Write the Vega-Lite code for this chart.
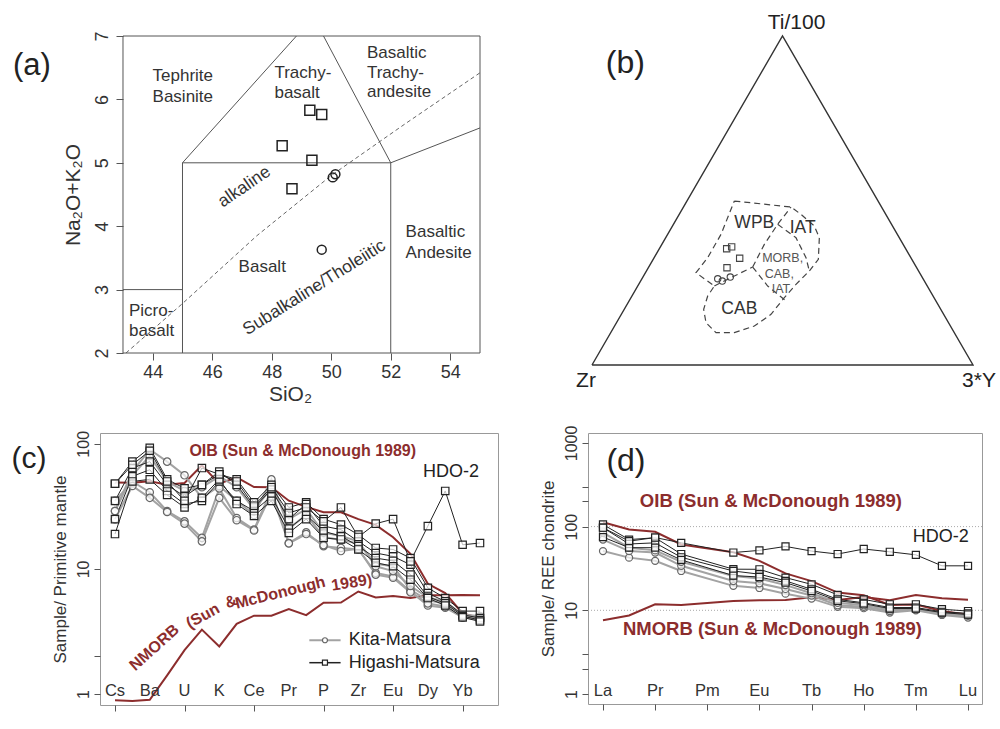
{
"$schema":"https://vega.github.io/schema/vega-lite/v6.json",
"padding":{"left":10,"top":12,"right":5,"bottom":5},
"config":{"font":"Liberation Sans","view":{"stroke":"#999"},"axis":{"domain":false,"grid":false,"labelFont":"Liberation Sans","titleFont":"Liberation Sans","labelColor":"#333","titleColor":"#333","tickColor":"#555","titleFontWeight":"normal","labelOverlap":false,"labelFlush":false},"text":{"font":"Liberation Sans","color":"#333"}},
"columns":2,
"spacing":{"row":68,"column":90},
"bounds":"flush",
"datasets":{
"tas_box":[{"x":43,"x2":55,"y":2,"y2":7}],
"tas_seg":[{"k":1,"o":1,"x":43,"y":3},{"k":1,"o":2,"x":45,"y":3},{"k":2,"o":1,"x":45,"y":2},{"k":2,"o":2,"x":45,"y":5},{"k":2,"o":3,"x":52,"y":5},{"k":2,"o":4,"x":52,"y":2},{"k":3,"o":1,"x":45,"y":5},{"k":3,"o":2,"x":48.83,"y":7},{"k":4,"o":1,"x":52,"y":5},{"k":4,"o":2,"x":49.74,"y":7},{"k":5,"o":1,"x":52,"y":5},{"k":5,"o":2,"x":55,"y":5.55}],
"tas_dash":[{"o":1,"x":43.1,"y":2},{"o":2,"x":45,"y":2.78},{"o":3,"x":47.5,"y":3.85},{"o":4,"x":50,"y":4.8},{"o":5,"x":52.5,"y":5.62},{"o":6,"x":55,"y":6.42}],
"tas_lab_c":[{"x":45.01,"y":6.37,"t":"Tephrite"},{"x":45.01,"y":6.03,"t":"Basinite"},{"x":47.68,"y":3.36,"t":"Basalt"}],
"tas_lab_l":[{"x":48.09,"y":6.42,"t":"Trachy-"},{"x":48.09,"y":6.1,"t":"basalt"},{"x":51.2,"y":6.73,"t":"Basaltic"},{"x":51.2,"y":6.42,"t":"Trachy-"},{"x":51.2,"y":6.12,"t":"andesite"},{"x":52.5,"y":3.91,"t":"Basaltic"},{"x":52.5,"y":3.57,"t":"Andesite"},{"x":43.2,"y":2.66,"t":"Picro-"},{"x":43.2,"y":2.34,"t":"basalt"}],
"tas_pts":[{"g":"H","x":49.28,"y":5.83},{"g":"H","x":49.68,"y":5.76},{"g":"H","x":48.35,"y":5.27},{"g":"H","x":49.35,"y":5.04},{"g":"H","x":48.68,"y":4.59},{"g":"K","x":50.05,"y":4.77},{"g":"K","x":50.14,"y":4.82},{"g":"K","x":49.68,"y":3.63}],
"tri":[{"o":1,"x":0,"y":0},{"o":2,"x":0.5,"y":0.866},{"o":3,"x":1,"y":0},{"o":4,"x":0,"y":0}],
"tri_f":[
{"k":"out","o":1,"x":0.3736,"y":0.4316},{"k":"out","o":2,"x":0.5223,"y":0.4158},{"k":"out","o":3,"x":0.5486,"y":0.3965},{"k":"out","o":4,"x":0.5836,"y":0.3658},{"k":"out","o":5,"x":0.5967,"y":0.3351},{"k":"out","o":6,"x":0.5941,"y":0.2781},{"k":"out","o":7,"x":0.5704,"y":0.2474},{"k":"out","o":8,"x":0.5354,"y":0.2123},{"k":"out","o":9,"x":0.5048,"y":0.1772},{"k":"out","o":10,"x":0.4698,"y":0.1333},{"k":"out","o":11,"x":0.4261,"y":0.1026},{"k":"out","o":12,"x":0.3736,"y":0.0851},{"k":"out","o":13,"x":0.3255,"y":0.0851},{"k":"out","o":14,"x":0.2992,"y":0.1114},{"k":"out","o":15,"x":0.2931,"y":0.1465},{"k":"out","o":16,"x":0.3036,"y":0.1816},{"k":"out","o":17,"x":0.3211,"y":0.2079},{"k":"out","o":18,"x":0.273,"y":0.243},{"k":"out","o":19,"x":0.3036,"y":0.2825},{"k":"out","o":20,"x":0.3386,"y":0.3439},{"k":"out","o":21,"x":0.3736,"y":0.4316},
{"k":"dc","o":1,"x":0.3211,"y":0.2079},{"k":"dc","o":2,"x":0.3736,"y":0.2342},{"k":"dc","o":3,"x":0.4217,"y":0.2579},
{"k":"db","o":1,"x":0.4217,"y":0.2579},{"k":"db","o":2,"x":0.4523,"y":0.3175},{"k":"db","o":3,"x":0.4873,"y":0.3702},{"k":"db","o":4,"x":0.5223,"y":0.4158},
{"k":"bc","o":1,"x":0.4217,"y":0.2579},{"k":"bc","o":2,"x":0.4611,"y":0.2079},{"k":"bc","o":3,"x":0.5092,"y":0.1684},
{"k":"ba","o":1,"x":0.4873,"y":0.3702},{"k":"ba","o":2,"x":0.5354,"y":0.3351},{"k":"ba","o":3,"x":0.5617,"y":0.2825},{"k":"ba","o":4,"x":0.5704,"y":0.2474}],
"tri_pts":[{"g":"H","x":0.3535,"y":0.306},{"g":"H","x":0.3666,"y":0.311},{"g":"H","x":0.3876,"y":0.281},{"g":"H","x":0.3543,"y":0.256},{"g":"K","x":0.33,"y":0.227},{"g":"K","x":0.342,"y":0.221},{"g":"K","x":0.363,"y":0.2316}],
"tri_vlab":[{"x":0.537,"y":0.899,"t":"Ti/100"},{"x":-0.0157,"y":-0.042,"t":"Zr"},{"x":1.0157,"y":-0.042,"t":"3*Y"}],
"tri_big":[{"x":0.426,"y":0.3745,"t":"WPB"},{"x":0.553,"y":0.361,"t":"IAT"},{"x":0.3867,"y":0.1465,"t":"CAB"}],
"tri_small":[{"x":0.5005,"y":0.282,"t":"MORB,"},{"x":0.4917,"y":0.2386,"t":"CAB,"},{"x":0.496,"y":0.2009,"t":"IAT"}],
"pm":[
{"s":"K1","g":"K","e":1,"v":29},{"s":"K1","g":"K","e":2,"v":60},{"s":"K1","g":"K","e":3,"v":90},{"s":"K1","g":"K","e":4,"v":72},{"s":"K1","g":"K","e":5,"v":56},{"s":"K1","g":"K","e":6,"v":37},{"s":"K1","g":"K","e":7,"v":46},{"s":"K1","g":"K","e":8,"v":35},{"s":"K1","g":"K","e":9,"v":27},{"s":"K1","g":"K","e":10,"v":52},{"s":"K1","g":"K","e":11,"v":21},{"s":"K1","g":"K","e":12,"v":27},{"s":"K1","g":"K","e":13,"v":18},{"s":"K1","g":"K","e":14,"v":17},{"s":"K1","g":"K","e":15,"v":16},{"s":"K1","g":"K","e":16,"v":11},{"s":"K1","g":"K","e":17,"v":10.5},{"s":"K1","g":"K","e":18,"v":6.8},{"s":"K1","g":"K","e":19,"v":5.6},{"s":"K1","g":"K","e":20,"v":5.3},{"s":"K1","g":"K","e":21,"v":4.3},{"s":"K1","g":"K","e":22,"v":4.2},
{"s":"K2","g":"K","e":1,"v":35},{"s":"K2","g":"K","e":2,"v":50},{"s":"K2","g":"K","e":3,"v":41},{"s":"K2","g":"K","e":4,"v":29},{"s":"K2","g":"K","e":5,"v":24},{"s":"K2","g":"K","e":6,"v":17.7},{"s":"K2","g":"K","e":7,"v":44},{"s":"K2","g":"K","e":8,"v":25.5},{"s":"K2","g":"K","e":9,"v":20.6},{"s":"K2","g":"K","e":10,"v":43},{"s":"K2","g":"K","e":11,"v":16.1},{"s":"K2","g":"K","e":12,"v":19.6},{"s":"K2","g":"K","e":13,"v":15.2},{"s":"K2","g":"K","e":14,"v":14.7},{"s":"K2","g":"K","e":15,"v":14.3},{"s":"K2","g":"K","e":16,"v":9.3},{"s":"K2","g":"K","e":17,"v":8.7},{"s":"K2","g":"K","e":18,"v":6.6},{"s":"K2","g":"K","e":19,"v":5.1},{"s":"K2","g":"K","e":20,"v":4.9},{"s":"K2","g":"K","e":21,"v":4.1},{"s":"K2","g":"K","e":22,"v":4.0},
{"s":"K3","g":"K","e":1,"v":25},{"s":"K3","g":"K","e":2,"v":46},{"s":"K3","g":"K","e":3,"v":37},{"s":"K3","g":"K","e":4,"v":28.5},{"s":"K3","g":"K","e":5,"v":23},{"s":"K3","g":"K","e":6,"v":16.6},{"s":"K3","g":"K","e":7,"v":37},{"s":"K3","g":"K","e":8,"v":24.5},{"s":"K3","g":"K","e":9,"v":20.3},{"s":"K3","g":"K","e":10,"v":40},{"s":"K3","g":"K","e":11,"v":16},{"s":"K3","g":"K","e":12,"v":19},{"s":"K3","g":"K","e":13,"v":15.5},{"s":"K3","g":"K","e":14,"v":13.9},{"s":"K3","g":"K","e":15,"v":14.5},{"s":"K3","g":"K","e":16,"v":9.0},{"s":"K3","g":"K","e":17,"v":8.5},{"s":"K3","g":"K","e":18,"v":6.5},{"s":"K3","g":"K","e":19,"v":5.3},{"s":"K3","g":"K","e":20,"v":5.0},{"s":"K3","g":"K","e":21,"v":4.1},{"s":"K3","g":"K","e":22,"v":3.9},
{"s":"K4","g":"K","e":1,"v":29},{"s":"K4","g":"K","e":2,"v":56},{"s":"K4","g":"K","e":3,"v":80},{"s":"K4","g":"K","e":4,"v":50},{"s":"K4","g":"K","e":5,"v":42},{"s":"K4","g":"K","e":6,"v":45},{"s":"K4","g":"K","e":7,"v":55},{"s":"K4","g":"K","e":8,"v":45},{"s":"K4","g":"K","e":9,"v":30},{"s":"K4","g":"K","e":10,"v":44},{"s":"K4","g":"K","e":11,"v":25},{"s":"K4","g":"K","e":12,"v":30},{"s":"K4","g":"K","e":13,"v":19.5},{"s":"K4","g":"K","e":14,"v":18.3},{"s":"K4","g":"K","e":15,"v":16.6},{"s":"K4","g":"K","e":16,"v":10.5},{"s":"K4","g":"K","e":17,"v":9.6},{"s":"K4","g":"K","e":18,"v":7.3},{"s":"K4","g":"K","e":19,"v":5.9},{"s":"K4","g":"K","e":20,"v":5.5},{"s":"K4","g":"K","e":21,"v":4.3},{"s":"K4","g":"K","e":22,"v":4.1},
{"s":"H1","g":"H","e":1,"v":48},{"s":"H1","g":"H","e":2,"v":72},{"s":"H1","g":"H","e":3,"v":93},{"s":"H1","g":"H","e":4,"v":52},{"s":"H1","g":"H","e":5,"v":44},{"s":"H1","g":"H","e":6,"v":47},{"s":"H1","g":"H","e":7,"v":57},{"s":"H1","g":"H","e":8,"v":52},{"s":"H1","g":"H","e":9,"v":34},{"s":"H1","g":"H","e":10,"v":47},{"s":"H1","g":"H","e":11,"v":31},{"s":"H1","g":"H","e":12,"v":34},{"s":"H1","g":"H","e":13,"v":25},{"s":"H1","g":"H","e":14,"v":22.6},{"s":"H1","g":"H","e":15,"v":18.8},{"s":"H1","g":"H","e":16,"v":14.7},{"s":"H1","g":"H","e":17,"v":14.3},{"s":"H1","g":"H","e":18,"v":12.2},{"s":"H1","g":"H","e":19,"v":7.05},{"s":"H1","g":"H","e":20,"v":5.85},{"s":"H1","g":"H","e":21,"v":4.6},{"s":"H1","g":"H","e":22,"v":4.6},
{"s":"H2","g":"H","e":1,"v":35},{"s":"H2","g":"H","e":2,"v":64},{"s":"H2","g":"H","e":3,"v":72},{"s":"H2","g":"H","e":4,"v":47},{"s":"H2","g":"H","e":5,"v":38},{"s":"H2","g":"H","e":6,"v":47},{"s":"H2","g":"H","e":7,"v":60},{"s":"H2","g":"H","e":8,"v":47},{"s":"H2","g":"H","e":9,"v":31},{"s":"H2","g":"H","e":10,"v":43},{"s":"H2","g":"H","e":11,"v":25},{"s":"H2","g":"H","e":12,"v":33},{"s":"H2","g":"H","e":13,"v":22},{"s":"H2","g":"H","e":14,"v":20.6},{"s":"H2","g":"H","e":15,"v":16.6},{"s":"H2","g":"H","e":16,"v":13.4},{"s":"H2","g":"H","e":17,"v":12.6},{"s":"H2","g":"H","e":18,"v":10.8},{"s":"H2","g":"H","e":19,"v":6.4},{"s":"H2","g":"H","e":20,"v":5.5},{"s":"H2","g":"H","e":21,"v":4.3},{"s":"H2","g":"H","e":22,"v":4.05},
{"s":"H3","g":"H","e":1,"v":25},{"s":"H3","g":"H","e":2,"v":55},{"s":"H3","g":"H","e":3,"v":62},{"s":"H3","g":"H","e":4,"v":42},{"s":"H3","g":"H","e":5,"v":33},{"s":"H3","g":"H","e":6,"v":35},{"s":"H3","g":"H","e":7,"v":50},{"s":"H3","g":"H","e":8,"v":35},{"s":"H3","g":"H","e":9,"v":29},{"s":"H3","g":"H","e":10,"v":38},{"s":"H3","g":"H","e":11,"v":21},{"s":"H3","g":"H","e":12,"v":27},{"s":"H3","g":"H","e":13,"v":20},{"s":"H3","g":"H","e":14,"v":18.3},{"s":"H3","g":"H","e":15,"v":15.2},{"s":"H3","g":"H","e":16,"v":12.2},{"s":"H3","g":"H","e":17,"v":11.6},{"s":"H3","g":"H","e":18,"v":9.0},{"s":"H3","g":"H","e":19,"v":6.0},{"s":"H3","g":"H","e":20,"v":5.3},{"s":"H3","g":"H","e":21,"v":4.2},{"s":"H3","g":"H","e":22,"v":3.9},
{"s":"H4","g":"H","e":1,"v":19},{"s":"H4","g":"H","e":2,"v":50},{"s":"H4","g":"H","e":3,"v":52},{"s":"H4","g":"H","e":4,"v":39},{"s":"H4","g":"H","e":5,"v":31},{"s":"H4","g":"H","e":6,"v":37},{"s":"H4","g":"H","e":7,"v":52},{"s":"H4","g":"H","e":8,"v":33},{"s":"H4","g":"H","e":9,"v":26.5},{"s":"H4","g":"H","e":10,"v":35},{"s":"H4","g":"H","e":11,"v":19.4},{"s":"H4","g":"H","e":12,"v":25},{"s":"H4","g":"H","e":13,"v":17.7},{"s":"H4","g":"H","e":14,"v":17.2},{"s":"H4","g":"H","e":15,"v":14.3},{"s":"H4","g":"H","e":16,"v":11.2},{"s":"H4","g":"H","e":17,"v":10.5},{"s":"H4","g":"H","e":18,"v":8.2},{"s":"H4","g":"H","e":19,"v":5.85},{"s":"H4","g":"H","e":20,"v":5.1},{"s":"H4","g":"H","e":21,"v":4.1},{"s":"H4","g":"H","e":22,"v":3.8},
{"s":"HDO2","g":"H","e":1,"v":48},{"s":"HDO2","g":"H","e":2,"v":68},{"s":"HDO2","g":"H","e":3,"v":88},{"s":"HDO2","g":"H","e":4,"v":50},{"s":"HDO2","g":"H","e":5,"v":35},{"s":"HDO2","g":"H","e":6,"v":64},{"s":"HDO2","g":"H","e":7,"v":57},{"s":"HDO2","g":"H","e":8,"v":50},{"s":"HDO2","g":"H","e":9,"v":32},{"s":"HDO2","g":"H","e":10,"v":45},{"s":"HDO2","g":"H","e":11,"v":28},{"s":"HDO2","g":"H","e":12,"v":31},{"s":"HDO2","g":"H","e":13,"v":24},{"s":"HDO2","g":"H","e":14,"v":31},{"s":"HDO2","g":"H","e":15,"v":18},{"s":"HDO2","g":"H","e":16,"v":23},{"s":"HDO2","g":"H","e":17,"v":25},{"s":"HDO2","g":"H","e":18,"v":11.5},{"s":"HDO2","g":"H","e":19,"v":22},{"s":"HDO2","g":"H","e":20,"v":42},{"s":"HDO2","g":"H","e":21,"v":15.6},{"s":"HDO2","g":"H","e":22,"v":16.1}],
"pm_ref":[
{"m":"OIB","e":1,"v":49},{"m":"OIB","e":2,"v":48.8},{"m":"OIB","e":3,"v":50.1},{"m":"OIB","e":4,"v":47},{"m":"OIB","e":5,"v":48.6},{"m":"OIB","e":6,"v":67.3},{"m":"OIB","e":7,"v":48},{"m":"OIB","e":8,"v":53.9},{"m":"OIB","e":9,"v":45.1},{"m":"OIB","e":10,"v":45},{"m":"OIB","e":11,"v":35.1},{"m":"OIB","e":12,"v":31.3},{"m":"OIB","e":13,"v":28.4},{"m":"OIB","e":14,"v":28.4},{"m":"OIB","e":15,"v":25},{"m":"OIB","e":16,"v":22.5},{"m":"OIB","e":17,"v":17.9},{"m":"OIB","e":18,"v":13.2},{"m":"OIB","e":19,"v":7.6},{"m":"OIB","e":20,"v":6.4},{"m":"OIB","e":21,"v":4.4},{"m":"OIB","e":22,"v":4.05},
{"m":"NMORB","e":1,"v":0.89},{"m":"NMORB","e":2,"v":0.88},{"m":"NMORB","e":3,"v":0.9},{"m":"NMORB","e":4,"v":1.41},{"m":"NMORB","e":5,"v":2.24},{"m":"NMORB","e":6,"v":3.27},{"m":"NMORB","e":7,"v":2.4},{"m":"NMORB","e":8,"v":3.64},{"m":"NMORB","e":9,"v":4.23},{"m":"NMORB","e":10,"v":4.23},{"m":"NMORB","e":11,"v":4.78},{"m":"NMORB","e":12,"v":4.27},{"m":"NMORB","e":13,"v":5.37},{"m":"NMORB","e":14,"v":5.39},{"m":"NMORB","e":15,"v":6.6},{"m":"NMORB","e":16,"v":5.92},{"m":"NMORB","e":17,"v":6.07},{"m":"NMORB","e":18,"v":5.85},{"m":"NMORB","e":19,"v":6.17},{"m":"NMORB","e":20,"v":6.15},{"m":"NMORB","e":21,"v":6.19},{"m":"NMORB","e":22,"v":6.15}],
"pm_in":[{"e":1,"t":"Cs"},{"e":3,"t":"Ba"},{"e":5,"t":"U"},{"e":7,"t":"K"},{"e":9,"t":"Ce"},{"e":11,"t":"Pr"},{"e":13,"t":"P"},{"e":15,"t":"Zr"},{"e":17,"t":"Eu"},{"e":19,"t":"Dy"},{"e":21,"t":"Yb"}],
"pm_leg":[{"g":"K","e":12.18,"e2":13.98,"m":13.08,"tx":14.45,"v":2.69,"t":"Kita-Matsura"},{"g":"H","e":12.18,"e2":13.98,"m":13.08,"tx":14.45,"v":1.78,"t":"Higashi-Matsura"}],
"ree":[
{"s":"K1","g":"K","e":1,"v":51},{"s":"K1","g":"K","e":2,"v":42.6},{"s":"K1","g":"K","e":3,"v":39},{"s":"K1","g":"K","e":4,"v":29.5},{"s":"K1","g":"K","e":6,"v":19.6},{"s":"K1","g":"K","e":7,"v":18.5},{"s":"K1","g":"K","e":8,"v":15.8},{"s":"K1","g":"K","e":9,"v":13.8},{"s":"K1","g":"K","e":10,"v":11},{"s":"K1","g":"K","e":11,"v":10.6},{"s":"K1","g":"K","e":12,"v":9.4},{"s":"K1","g":"K","e":13,"v":10},{"s":"K1","g":"K","e":14,"v":8.8},{"s":"K1","g":"K","e":15,"v":8.2},
{"s":"K2","g":"K","e":1,"v":70},{"s":"K2","g":"K","e":2,"v":51},{"s":"K2","g":"K","e":3,"v":49},{"s":"K2","g":"K","e":4,"v":34},{"s":"K2","g":"K","e":6,"v":22.4},{"s":"K2","g":"K","e":7,"v":21},{"s":"K2","g":"K","e":8,"v":18},{"s":"K2","g":"K","e":9,"v":15},{"s":"K2","g":"K","e":10,"v":11.5},{"s":"K2","g":"K","e":11,"v":11},{"s":"K2","g":"K","e":12,"v":9.8},{"s":"K2","g":"K","e":13,"v":10.2},{"s":"K2","g":"K","e":14,"v":9},{"s":"K2","g":"K","e":15,"v":8.6},
{"s":"K3","g":"K","e":1,"v":85},{"s":"K3","g":"K","e":2,"v":56},{"s":"K3","g":"K","e":3,"v":52},{"s":"K3","g":"K","e":4,"v":38},{"s":"K3","g":"K","e":6,"v":25.7},{"s":"K3","g":"K","e":7,"v":24},{"s":"K3","g":"K","e":8,"v":20},{"s":"K3","g":"K","e":9,"v":16},{"s":"K3","g":"K","e":10,"v":12.3},{"s":"K3","g":"K","e":11,"v":11.5},{"s":"K3","g":"K","e":12,"v":10.3},{"s":"K3","g":"K","e":13,"v":10.5},{"s":"K3","g":"K","e":14,"v":9.2},{"s":"K3","g":"K","e":15,"v":8.8},
{"s":"H1","g":"H","e":1,"v":106},{"s":"H1","g":"H","e":2,"v":70},{"s":"H1","g":"H","e":3,"v":73.6},{"s":"H1","g":"H","e":4,"v":47},{"s":"H1","g":"H","e":6,"v":31},{"s":"H1","g":"H","e":7,"v":30.9},{"s":"H1","g":"H","e":8,"v":24.6},{"s":"H1","g":"H","e":9,"v":20.4},{"s":"H1","g":"H","e":10,"v":15.3},{"s":"H1","g":"H","e":11,"v":13.5},{"s":"H1","g":"H","e":12,"v":11.8},{"s":"H1","g":"H","e":13,"v":11.8},{"s":"H1","g":"H","e":14,"v":10.3},{"s":"H1","g":"H","e":15,"v":9.8},
{"s":"H2","g":"H","e":1,"v":97},{"s":"H2","g":"H","e":2,"v":62},{"s":"H2","g":"H","e":3,"v":64},{"s":"H2","g":"H","e":4,"v":43},{"s":"H2","g":"H","e":6,"v":29.5},{"s":"H2","g":"H","e":7,"v":27},{"s":"H2","g":"H","e":8,"v":22.5},{"s":"H2","g":"H","e":9,"v":17.8},{"s":"H2","g":"H","e":10,"v":13.5},{"s":"H2","g":"H","e":11,"v":12.3},{"s":"H2","g":"H","e":12,"v":10.8},{"s":"H2","g":"H","e":13,"v":10.8},{"s":"H2","g":"H","e":14,"v":9.6},{"s":"H2","g":"H","e":15,"v":9.2},
{"s":"H3","g":"H","e":1,"v":75},{"s":"H3","g":"H","e":2,"v":56},{"s":"H3","g":"H","e":3,"v":56},{"s":"H3","g":"H","e":4,"v":40},{"s":"H3","g":"H","e":6,"v":26},{"s":"H3","g":"H","e":7,"v":25},{"s":"H3","g":"H","e":8,"v":21.4},{"s":"H3","g":"H","e":9,"v":17},{"s":"H3","g":"H","e":10,"v":13},{"s":"H3","g":"H","e":11,"v":12},{"s":"H3","g":"H","e":12,"v":10.5},{"s":"H3","g":"H","e":13,"v":10.5},{"s":"H3","g":"H","e":14,"v":9.4},{"s":"H3","g":"H","e":15,"v":8.9},
{"s":"HDO2","g":"H","e":1,"v":97},{"s":"HDO2","g":"H","e":2,"v":67},{"s":"HDO2","g":"H","e":3,"v":74},{"s":"HDO2","g":"H","e":4,"v":64},{"s":"HDO2","g":"H","e":6,"v":49},{"s":"HDO2","g":"H","e":7,"v":52},{"s":"HDO2","g":"H","e":8,"v":58},{"s":"HDO2","g":"H","e":9,"v":51},{"s":"HDO2","g":"H","e":10,"v":47},{"s":"HDO2","g":"H","e":11,"v":54},{"s":"HDO2","g":"H","e":12,"v":50},{"s":"HDO2","g":"H","e":13,"v":46},{"s":"HDO2","g":"H","e":14,"v":34},{"s":"HDO2","g":"H","e":15,"v":34}],
"ree_ref":[
{"m":"OIB","e":1,"v":112.5},{"m":"OIB","e":2,"v":92.5},{"m":"OIB","e":3,"v":86.6},{"m":"OIB","e":4,"v":61.1},{"m":"OIB","e":6,"v":49.3},{"m":"OIB","e":7,"v":39},{"m":"OIB","e":8,"v":27.6},{"m":"OIB","e":9,"v":22.3},{"m":"OIB","e":10,"v":16.3},{"m":"OIB","e":11,"v":15.1},{"m":"OIB","e":12,"v":11.6},{"m":"OIB","e":13,"v":11.7},{"m":"OIB","e":14,"v":9.8},{"m":"OIB","e":15,"v":8.85},
{"m":"NMORB","e":1,"v":7.6},{"m":"NMORB","e":2,"v":8.67},{"m":"NMORB","e":3,"v":11.8},{"m":"NMORB","e":4,"v":11.6},{"m":"NMORB","e":6,"v":12.96},{"m":"NMORB","e":7,"v":13.2},{"m":"NMORB","e":8,"v":13.3},{"m":"NMORB","e":9,"v":14.3},{"m":"NMORB","e":10,"v":13.3},{"m":"NMORB","e":11,"v":14.4},{"m":"NMORB","e":12,"v":13.2},{"m":"NMORB","e":13,"v":15.2},{"m":"NMORB","e":14,"v":13.9},{"m":"NMORB","e":15,"v":13.4}],
"ree_in":[{"e":1,"t":"La"},{"e":3,"t":"Pr"},{"e":5,"t":"Pm"},{"e":7,"t":"Eu"},{"e":9,"t":"Tb"},{"e":11,"t":"Ho"},{"e":13,"t":"Tm"},{"e":15,"t":"Lu"}]
},
"concat":[
{
"width":380,"height":317,"view":{"stroke":null},
"layer":[
{"data":{"name":"tas_box"},"mark":{"type":"rect","filled":false,"stroke":"#555","strokeWidth":1},
 "encoding":{
  "x":{"field":"x","type":"quantitative","scale":{"domain":[42.227,55],"nice":false,"zero":false},"title":"SiO₂","axis":{"values":[44,46,48,50,52,54],"format":"d","tickSize":7,"labelFontSize":18,"titleFontSize":21,"labelPadding":3,"titlePadding":2}},
  "x2":{"field":"x2"},
  "y":{"field":"y","type":"quantitative","scale":{"domain":[2,7],"nice":false,"zero":false},"title":"Na₂O+K₂O","axis":{"values":[2,3,4,5,6,7],"format":"d","offset":-23,"tickSize":7,"labelAngle":-90,"labelFontSize":18,"titleFontSize":21,"labelPadding":5,"titlePadding":10}},
  "y2":{"field":"y2"}}},
{"data":{"name":"tas_seg"},"mark":{"type":"line","stroke":"#555","strokeWidth":1},
 "encoding":{"x":{"field":"x","type":"quantitative","scale":{"domain":[42.227,55],"nice":false,"zero":false},"title":"SiO₂"},"y":{"field":"y","type":"quantitative","scale":{"domain":[2,7],"nice":false,"zero":false},"title":"Na₂O+K₂O"},"detail":{"field":"k"},"order":{"field":"o"}}},
{"data":{"name":"tas_dash"},"mark":{"type":"line","stroke":"#555","strokeWidth":0.9,"strokeDash":[4,3]},
 "encoding":{"x":{"field":"x","type":"quantitative","scale":{"domain":[42.227,55],"nice":false,"zero":false},"title":"SiO₂"},"y":{"field":"y","type":"quantitative","scale":{"domain":[2,7],"nice":false,"zero":false},"title":"Na₂O+K₂O"},"order":{"field":"o"}}},
{"data":{"name":"tas_lab_c"},"mark":{"type":"text","fontSize":17,"align":"center","baseline":"middle","color":"#333"},
 "encoding":{"x":{"field":"x","type":"quantitative","scale":{"domain":[42.227,55],"nice":false,"zero":false},"title":"SiO₂"},"y":{"field":"y","type":"quantitative","scale":{"domain":[2,7],"nice":false,"zero":false},"title":"Na₂O+K₂O"},"text":{"field":"t"}}},
{"data":{"name":"tas_lab_l"},"mark":{"type":"text","fontSize":17,"align":"left","baseline":"middle","color":"#333"},
 "encoding":{"x":{"field":"x","type":"quantitative","scale":{"domain":[42.227,55],"nice":false,"zero":false},"title":"SiO₂"},"y":{"field":"y","type":"quantitative","scale":{"domain":[2,7],"nice":false,"zero":false},"title":"Na₂O+K₂O"},"text":{"field":"t"}}},
{"data":{"values":[{"x":47.08,"y":4.62,"t":"alkaline"}]},"mark":{"type":"text","fontSize":17.5,"angle":325.5,"align":"center","baseline":"middle","color":"#333"},
 "encoding":{"x":{"field":"x","type":"quantitative","scale":{"domain":[42.227,55],"nice":false,"zero":false},"title":"SiO₂"},"y":{"field":"y","type":"quantitative","scale":{"domain":[2,7],"nice":false,"zero":false},"title":"Na₂O+K₂O"},"text":{"field":"t"}}},
{"data":{"values":[{"x":49.43,"y":3.03,"t":"Subalkaline/Tholeiitic"}]},"mark":{"type":"text","fontSize":17.5,"angle":328,"align":"center","baseline":"middle","color":"#333"},
 "encoding":{"x":{"field":"x","type":"quantitative","scale":{"domain":[42.227,55],"nice":false,"zero":false},"title":"SiO₂"},"y":{"field":"y","type":"quantitative","scale":{"domain":[2,7],"nice":false,"zero":false},"title":"Na₂O+K₂O"},"text":{"field":"t"}}},
{"data":{"values":[{"x":39.94,"y":6.53,"t":"(a)"}]},"mark":{"type":"text","fontSize":31,"align":"center","baseline":"middle","color":"#222"},
 "encoding":{"x":{"field":"x","type":"quantitative","scale":{"domain":[42.227,55],"nice":false,"zero":false},"title":"SiO₂"},"y":{"field":"y","type":"quantitative","scale":{"domain":[2,7],"nice":false,"zero":false},"title":"Na₂O+K₂O"},"text":{"field":"t"}}},
{"data":{"name":"tas_pts"},"transform":[{"filter":"datum.g=='H'"}],"mark":{"type":"point","shape":"square","size":100,"filled":false,"stroke":"#222","strokeWidth":1.5,"opacity":1},
 "encoding":{"x":{"field":"x","type":"quantitative","scale":{"domain":[42.227,55],"nice":false,"zero":false},"title":"SiO₂"},"y":{"field":"y","type":"quantitative","scale":{"domain":[2,7],"nice":false,"zero":false},"title":"Na₂O+K₂O"}}},
{"data":{"name":"tas_pts"},"transform":[{"filter":"datum.g=='K'"}],"mark":{"type":"point","shape":"circle","size":80,"filled":false,"stroke":"#222","strokeWidth":1.5,"opacity":1},
 "encoding":{"x":{"field":"x","type":"quantitative","scale":{"domain":[42.227,55],"nice":false,"zero":false},"title":"SiO₂"},"y":{"field":"y","type":"quantitative","scale":{"domain":[2,7],"nice":false,"zero":false},"title":"Na₂O+K₂O"}}}
]},
{
"width":385,"height":329,"view":{"stroke":null},
"layer":[
{"data":{"name":"tri"},"mark":{"type":"line","stroke":"#333","strokeWidth":1.4},
 "encoding":{"x":{"field":"x","type":"quantitative","scale":{"domain":[-0.0105,1],"nice":false,"zero":false},"axis":null},"y":{"field":"y","type":"quantitative","scale":{"domain":[0,0.866],"nice":false,"zero":false},"axis":null},"order":{"field":"o"}}},
{"data":{"name":"tri_f"},"mark":{"type":"line","stroke":"#444","strokeWidth":1.2,"strokeDash":[6,4]},
 "encoding":{"x":{"field":"x","type":"quantitative","scale":{"domain":[-0.0105,1],"nice":false,"zero":false},"axis":null},"y":{"field":"y","type":"quantitative","scale":{"domain":[0,0.866],"nice":false,"zero":false},"axis":null},"detail":{"field":"k"},"order":{"field":"o"}}},
{"data":{"name":"tri_vlab"},"mark":{"type":"text","fontSize":21,"align":"center","baseline":"middle","color":"#222"},
 "encoding":{"x":{"field":"x","type":"quantitative","scale":{"domain":[-0.0105,1],"nice":false,"zero":false},"axis":null},"y":{"field":"y","type":"quantitative","scale":{"domain":[0,0.866],"nice":false,"zero":false},"axis":null},"text":{"field":"t"}}},
{"data":{"name":"tri_big"},"mark":{"type":"text","fontSize":17.5,"align":"center","baseline":"middle","color":"#333"},
 "encoding":{"x":{"field":"x","type":"quantitative","scale":{"domain":[-0.0105,1],"nice":false,"zero":false},"axis":null},"y":{"field":"y","type":"quantitative","scale":{"domain":[0,0.866],"nice":false,"zero":false},"axis":null},"text":{"field":"t"}}},
{"data":{"name":"tri_small"},"mark":{"type":"text","fontSize":12.5,"align":"center","baseline":"middle","color":"#555"},
 "encoding":{"x":{"field":"x","type":"quantitative","scale":{"domain":[-0.0105,1],"nice":false,"zero":false},"axis":null},"y":{"field":"y","type":"quantitative","scale":{"domain":[0,0.866],"nice":false,"zero":false},"axis":null},"text":{"field":"t"}}},
{"data":{"values":[{"x":0.0874,"y":0.7955,"t":"(b)"}]},"mark":{"type":"text","fontSize":32,"align":"center","baseline":"middle","color":"#222"},
 "encoding":{"x":{"field":"x","type":"quantitative","scale":{"domain":[-0.0105,1],"nice":false,"zero":false},"axis":null},"y":{"field":"y","type":"quantitative","scale":{"domain":[0,0.866],"nice":false,"zero":false},"axis":null},"text":{"field":"t"}}},
{"data":{"name":"tri_pts"},"transform":[{"filter":"datum.g=='H'"}],"mark":{"type":"point","shape":"square","size":40,"filled":false,"stroke":"#444","strokeWidth":1.1,"opacity":1},
 "encoding":{"x":{"field":"x","type":"quantitative","scale":{"domain":[-0.0105,1],"nice":false,"zero":false},"axis":null},"y":{"field":"y","type":"quantitative","scale":{"domain":[0,0.866],"nice":false,"zero":false},"axis":null}}},
{"data":{"name":"tri_pts"},"transform":[{"filter":"datum.g=='K'"}],"mark":{"type":"point","shape":"circle","size":40,"filled":false,"stroke":"#444","strokeWidth":1.1,"opacity":1},
 "encoding":{"x":{"field":"x","type":"quantitative","scale":{"domain":[-0.0105,1],"nice":false,"zero":false},"axis":null},"y":{"field":"y","type":"quantitative","scale":{"domain":[0,0.866],"nice":false,"zero":false},"axis":null}}}
]},
{
"width":398,"height":272,"view":{"stroke":"#999"},
"layer":[
{"mark":{"type":"rule","stroke":"#aaa","strokeWidth":1,"strokeDash":[1,2]},
 "encoding":{"y":{"datum":10,"type":"quantitative","scale":{"type":"log","domain":[0.817,122],"nice":false}}}},
{"data":{"name":"pm_ref"},"mark":{"type":"line","stroke":"#8c2d2d","strokeWidth":2},
 "encoding":{"x":{"field":"e","type":"quantitative","scale":{"domain":[0.137,23.036],"nice":false,"zero":false},"title":null},"y":{"field":"v","type":"quantitative","scale":{"type":"log","domain":[0.817,122],"nice":false},"title":"Sample/ Primitive mantle"},"detail":{"field":"m"}}},
{"data":{"name":"pm"},"transform":[{"filter":"datum.g=='K'"}],"mark":{"type":"line","stroke":"#a3a3a3","strokeWidth":2},
 "encoding":{"x":{"field":"e","type":"quantitative","scale":{"domain":[0.137,23.036],"nice":false,"zero":false},"title":null},"y":{"field":"v","type":"quantitative","scale":{"type":"log","domain":[0.817,122],"nice":false},"title":"Sample/ Primitive mantle"},"detail":{"field":"s"}}},
{"data":{"name":"pm"},"transform":[{"filter":"datum.g=='H'"}],"mark":{"type":"line","stroke":"#222","strokeWidth":1},
 "encoding":{"x":{"field":"e","type":"quantitative","scale":{"domain":[0.137,23.036],"nice":false,"zero":false},"title":null,"axis":{"values":[1,2,3,4,5,6,7,8,9,10,11,12,13,14,15,16,17,18,19,20,21,22],"labelExpr":"datum.value % 2 == 0 ? ['','Cs','Rb','Ba','Th','U','Nb','K','La','Ce','Pb','Pr','Sr','P','Nd','Zr','Sm','Eu','Ti','Dy','Y','Yb','Lu'][datum.value] : ''","tickSize":6,"labelFontSize":16.5,"labelPadding":2}},"y":{"field":"v","type":"quantitative","scale":{"type":"log","domain":[0.817,122],"nice":false},"title":"Sample/ Primitive mantle","axis":{"values":[1,2,10,100],"labelExpr":"datum.value == 2 ? '' : datum.value","labelAngle":-90,"tickSize":6,"labelFontSize":16,"labelPadding":3,"titleFontSize":17,"titlePadding":6}},"detail":{"field":"s"}}},
{"data":{"name":"pm"},"transform":[{"filter":"datum.g=='K'"}],"mark":{"type":"point","shape":"circle","size":55,"filled":true,"fill":"#fff","fillOpacity":0.7,"stroke":"#666","strokeWidth":1.2,"opacity":1},
 "encoding":{"x":{"field":"e","type":"quantitative","scale":{"domain":[0.137,23.036],"nice":false,"zero":false},"title":null},"y":{"field":"v","type":"quantitative","scale":{"type":"log","domain":[0.817,122],"nice":false},"title":"Sample/ Primitive mantle"}}},
{"data":{"name":"pm"},"transform":[{"filter":"datum.g=='H'"}],"mark":{"type":"point","shape":"square","size":55,"filled":true,"fill":"#fff","fillOpacity":0.7,"stroke":"#222","strokeWidth":1.2,"opacity":1},
 "encoding":{"x":{"field":"e","type":"quantitative","scale":{"domain":[0.137,23.036],"nice":false,"zero":false},"title":null},"y":{"field":"v","type":"quantitative","scale":{"type":"log","domain":[0.817,122],"nice":false},"title":"Sample/ Primitive mantle"}}},
{"data":{"values":[{"e":11.8,"v":87.9,"t":"OIB (Sun & McDonough 1989)"}]},"mark":{"type":"text","fontSize":16,"fontWeight":"bold","align":"center","baseline":"middle","color":"#8c2d2d"},
 "encoding":{"x":{"field":"e","type":"quantitative","scale":{"domain":[0.137,23.036],"nice":false,"zero":false},"title":null},"y":{"field":"v","type":"quantitative","scale":{"type":"log","domain":[0.817,122],"nice":false},"title":"Sample/ Primitive mantle"},"text":{"field":"t"}}},
{"data":{"values":[{"e":3.26,"v":2.35,"t":"NMORB"}]},"mark":{"type":"text","fontSize":16,"fontWeight":"bold","angle":318,"align":"center","baseline":"middle","color":"#8c2d2d"},
 "encoding":{"x":{"field":"e","type":"quantitative","scale":{"domain":[0.137,23.036],"nice":false,"zero":false},"title":null},"y":{"field":"v","type":"quantitative","scale":{"type":"log","domain":[0.817,122],"nice":false},"title":"Sample/ Primitive mantle"},"text":{"field":"t"}}},
{"data":{"values":[{"e":6.05,"v":4.21,"t":"(Sun"}]},"mark":{"type":"text","fontSize":16,"fontWeight":"bold","angle":331,"align":"center","baseline":"middle","color":"#8c2d2d"},
 "encoding":{"x":{"field":"e","type":"quantitative","scale":{"domain":[0.137,23.036],"nice":false,"zero":false},"title":null},"y":{"field":"v","type":"quantitative","scale":{"type":"log","domain":[0.817,122],"nice":false},"title":"Sample/ Primitive mantle"},"text":{"field":"t"}}},
{"data":{"values":[{"e":7.67,"v":5.47,"t":"&"}]},"mark":{"type":"text","fontSize":16,"fontWeight":"bold","angle":338,"align":"center","baseline":"middle","color":"#8c2d2d"},
 "encoding":{"x":{"field":"e","type":"quantitative","scale":{"domain":[0.137,23.036],"nice":false,"zero":false},"title":null},"y":{"field":"v","type":"quantitative","scale":{"type":"log","domain":[0.817,122],"nice":false},"title":"Sample/ Primitive mantle"},"text":{"field":"t"}}},
{"data":{"values":[{"e":10.51,"v":6.46,"t":"McDonough"}]},"mark":{"type":"text","fontSize":16,"fontWeight":"bold","angle":346,"align":"center","baseline":"middle","color":"#8c2d2d"},
 "encoding":{"x":{"field":"e","type":"quantitative","scale":{"domain":[0.137,23.036],"nice":false,"zero":false},"title":null},"y":{"field":"v","type":"quantitative","scale":{"type":"log","domain":[0.817,122],"nice":false},"title":"Sample/ Primitive mantle"},"text":{"field":"t"}}},
{"data":{"values":[{"e":14.62,"v":7.77,"t":"1989)"}]},"mark":{"type":"text","fontSize":16,"fontWeight":"bold","angle":351,"align":"center","baseline":"middle","color":"#8c2d2d"},
 "encoding":{"x":{"field":"e","type":"quantitative","scale":{"domain":[0.137,23.036],"nice":false,"zero":false},"title":null},"y":{"field":"v","type":"quantitative","scale":{"type":"log","domain":[0.817,122],"nice":false},"title":"Sample/ Primitive mantle"},"text":{"field":"t"}}},
{"data":{"values":[{"e":20.33,"v":60,"t":"HDO-2"}]},"mark":{"type":"text","fontSize":18,"align":"center","baseline":"middle","color":"#222"},
 "encoding":{"x":{"field":"e","type":"quantitative","scale":{"domain":[0.137,23.036],"nice":false,"zero":false},"title":null},"y":{"field":"v","type":"quantitative","scale":{"type":"log","domain":[0.817,122],"nice":false},"title":"Sample/ Primitive mantle"},"text":{"field":"t"}}},
{"data":{"values":[{"e":-3.95,"v":75.9,"t":"(c)"}]},"mark":{"type":"text","fontSize":30,"align":"center","baseline":"middle","color":"#222"},
 "encoding":{"x":{"field":"e","type":"quantitative","scale":{"domain":[0.137,23.036],"nice":false,"zero":false},"title":null},"y":{"field":"v","type":"quantitative","scale":{"type":"log","domain":[0.817,122],"nice":false},"title":"Sample/ Primitive mantle"},"text":{"field":"t"}}},
{"data":{"name":"pm_in"},"mark":{"type":"text","fontSize":16.5,"align":"center","baseline":"middle","color":"#333"},
 "encoding":{"x":{"field":"e","type":"quantitative","scale":{"domain":[0.137,23.036],"nice":false,"zero":false},"title":null},"y":{"datum":1.057,"type":"quantitative","scale":{"type":"log","domain":[0.817,122],"nice":false}},"text":{"field":"t"}}},
{"data":{"name":"pm_leg"},"transform":[{"filter":"datum.g=='K'"}],"mark":{"type":"rule","stroke":"#a3a3a3","strokeWidth":2},
 "encoding":{"x":{"field":"e","type":"quantitative","scale":{"domain":[0.137,23.036],"nice":false,"zero":false},"title":null},"x2":{"field":"e2"},"y":{"field":"v","type":"quantitative","scale":{"type":"log","domain":[0.817,122],"nice":false},"title":"Sample/ Primitive mantle"}}},
{"data":{"name":"pm_leg"},"transform":[{"filter":"datum.g=='H'"}],"mark":{"type":"rule","stroke":"#222","strokeWidth":1.5},
 "encoding":{"x":{"field":"e","type":"quantitative","scale":{"domain":[0.137,23.036],"nice":false,"zero":false},"title":null},"x2":{"field":"e2"},"y":{"field":"v","type":"quantitative","scale":{"type":"log","domain":[0.817,122],"nice":false},"title":"Sample/ Primitive mantle"}}},
{"data":{"name":"pm_leg"},"transform":[{"filter":"datum.g=='K'"}],"mark":{"type":"point","shape":"circle","size":25,"filled":true,"fill":"#fff","stroke":"#666","strokeWidth":1.2,"opacity":1},
 "encoding":{"x":{"field":"m","type":"quantitative","scale":{"domain":[0.137,23.036],"nice":false,"zero":false},"title":null},"y":{"field":"v","type":"quantitative","scale":{"type":"log","domain":[0.817,122],"nice":false},"title":"Sample/ Primitive mantle"}}},
{"data":{"name":"pm_leg"},"transform":[{"filter":"datum.g=='H'"}],"mark":{"type":"point","shape":"square","size":25,"filled":true,"fill":"#fff","stroke":"#222","strokeWidth":1.2,"opacity":1},
 "encoding":{"x":{"field":"m","type":"quantitative","scale":{"domain":[0.137,23.036],"nice":false,"zero":false},"title":null},"y":{"field":"v","type":"quantitative","scale":{"type":"log","domain":[0.817,122],"nice":false},"title":"Sample/ Primitive mantle"}}},
{"data":{"name":"pm_leg"},"mark":{"type":"text","fontSize":18,"align":"left","baseline":"middle","color":"#222"},
 "encoding":{"x":{"field":"tx","type":"quantitative","scale":{"domain":[0.137,23.036],"nice":false,"zero":false},"title":null},"y":{"field":"v","type":"quantitative","scale":{"type":"log","domain":[0.817,122],"nice":false},"title":"Sample/ Primitive mantle"},"text":{"field":"t"}}}
]},
{
"width":394,"height":271,"view":{"stroke":"#999"},
"layer":[
{"data":{"values":[{"v":10},{"v":100}]},"mark":{"type":"rule","stroke":"#aaa","strokeWidth":1,"strokeDash":[1,2]},
 "encoding":{"y":{"field":"v","type":"quantitative","scale":{"type":"log","domain":[0.76,1313],"nice":false},"title":"Sample/ REE chondrite"}}},
{"data":{"name":"ree_ref"},"mark":{"type":"line","stroke":"#8c2d2d","strokeWidth":2},
 "encoding":{"x":{"field":"e","type":"quantitative","scale":{"domain":[0.425,15.536],"nice":false,"zero":false},"title":null},"y":{"field":"v","type":"quantitative","scale":{"type":"log","domain":[0.76,1313],"nice":false},"title":"Sample/ REE chondrite"},"detail":{"field":"m"}}},
{"data":{"name":"ree"},"transform":[{"filter":"datum.g=='K'"}],"mark":{"type":"line","stroke":"#a3a3a3","strokeWidth":2},
 "encoding":{"x":{"field":"e","type":"quantitative","scale":{"domain":[0.425,15.536],"nice":false,"zero":false},"title":null},"y":{"field":"v","type":"quantitative","scale":{"type":"log","domain":[0.76,1313],"nice":false},"title":"Sample/ REE chondrite"},"detail":{"field":"s"}}},
{"data":{"name":"ree"},"transform":[{"filter":"datum.g=='H'"}],"mark":{"type":"line","stroke":"#222","strokeWidth":1},
 "encoding":{"x":{"field":"e","type":"quantitative","scale":{"domain":[0.425,15.536],"nice":false,"zero":false},"title":null,"axis":{"values":[1,2,3,4,5,6,7,8,9,10,11,12,13,14,15],"labelExpr":"datum.value % 2 == 0 ? ['','La','Ce','Pr','Nd','Pm','Sm','Eu','Gd','Tb','Dy','Ho','Er','Tm','Yb','Lu'][datum.value] : ''","tickSize":6,"labelFontSize":16.5,"labelPadding":2}},"y":{"field":"v","type":"quantitative","scale":{"type":"log","domain":[0.76,1313],"nice":false},"title":"Sample/ REE chondrite","axis":{"values":[1,2,3,10,100,200,300,1000],"labelExpr":"(datum.value == 1 || datum.value == 10 || datum.value == 100 || datum.value == 1000) ? datum.value : ''","labelAngle":-90,"tickSize":6,"labelFontSize":16,"labelPadding":3,"titleFontSize":17,"titlePadding":6}},"detail":{"field":"s"}}},
{"data":{"name":"ree"},"transform":[{"filter":"datum.g=='K'"}],"mark":{"type":"point","shape":"circle","size":50,"filled":true,"fill":"#fff","fillOpacity":0.7,"stroke":"#666","strokeWidth":1.2,"opacity":1},
 "encoding":{"x":{"field":"e","type":"quantitative","scale":{"domain":[0.425,15.536],"nice":false,"zero":false},"title":null},"y":{"field":"v","type":"quantitative","scale":{"type":"log","domain":[0.76,1313],"nice":false},"title":"Sample/ REE chondrite"}}},
{"data":{"name":"ree"},"transform":[{"filter":"datum.g=='H'"}],"mark":{"type":"point","shape":"square","size":50,"filled":true,"fill":"#fff","fillOpacity":0.7,"stroke":"#222","strokeWidth":1.2,"opacity":1},
 "encoding":{"x":{"field":"e","type":"quantitative","scale":{"domain":[0.425,15.536],"nice":false,"zero":false},"title":null},"y":{"field":"v","type":"quantitative","scale":{"type":"log","domain":[0.76,1313],"nice":false},"title":"Sample/ REE chondrite"}}},
{"data":{"values":[{"e":7.44,"v":202,"t":"OIB (Sun & McDonough 1989)"},{"e":7.5,"v":5.93,"t":"NMORB (Sun & McDonough 1989)"}]},"mark":{"type":"text","fontSize":18.5,"fontWeight":"bold","align":"center","baseline":"middle","color":"#8c2d2d"},
 "encoding":{"x":{"field":"e","type":"quantitative","scale":{"domain":[0.425,15.536],"nice":false,"zero":false},"title":null},"y":{"field":"v","type":"quantitative","scale":{"type":"log","domain":[0.76,1313],"nice":false},"title":"Sample/ REE chondrite"},"text":{"field":"t"}}},
{"data":{"values":[{"e":13.95,"v":75.2,"t":"HDO-2"}]},"mark":{"type":"text","fontSize":18,"align":"center","baseline":"middle","color":"#222"},
 "encoding":{"x":{"field":"e","type":"quantitative","scale":{"domain":[0.425,15.536],"nice":false,"zero":false},"title":null},"y":{"field":"v","type":"quantitative","scale":{"type":"log","domain":[0.76,1313],"nice":false},"title":"Sample/ REE chondrite"},"text":{"field":"t"}}},
{"data":{"values":[{"e":1.88,"v":608,"t":"(d)"}]},"mark":{"type":"text","fontSize":32,"align":"center","baseline":"middle","color":"#222"},
 "encoding":{"x":{"field":"e","type":"quantitative","scale":{"domain":[0.425,15.536],"nice":false,"zero":false},"title":null},"y":{"field":"v","type":"quantitative","scale":{"type":"log","domain":[0.76,1313],"nice":false},"title":"Sample/ REE chondrite"},"text":{"field":"t"}}},
{"data":{"name":"ree_in"},"mark":{"type":"text","fontSize":16.5,"align":"center","baseline":"middle","color":"#333"},
 "encoding":{"x":{"field":"e","type":"quantitative","scale":{"domain":[0.425,15.536],"nice":false,"zero":false},"title":null},"y":{"datum":1.086,"type":"quantitative","scale":{"type":"log","domain":[0.76,1313],"nice":false}},"text":{"field":"t"}}}
]}
]
}
